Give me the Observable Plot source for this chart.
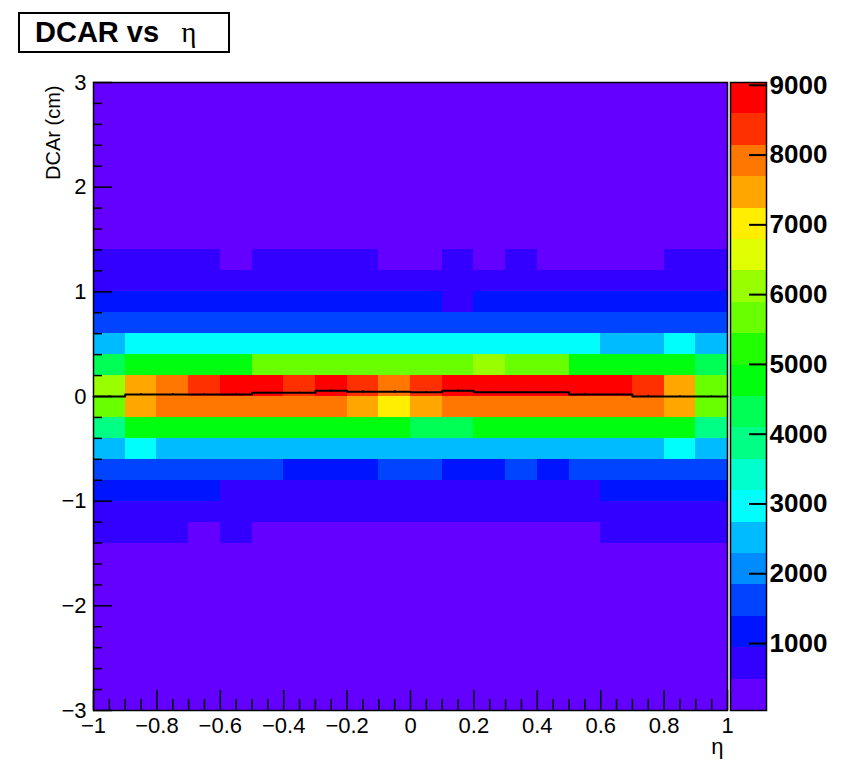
<!DOCTYPE html>
<html>
<head>
<meta charset="utf-8">
<script src="https://cdn.jsdelivr.net/npm/d3@7"></script>
<script src="https://cdn.jsdelivr.net/npm/@observablehq/plot@0.6"></script>
<style>
  body { margin: 0; background: #fff; }
  #wrap { position: relative; width: 847px; height: 762px; overflow: hidden;
          font-family: "Liberation Sans", Arial, Helvetica, sans-serif; }
  #wrap svg { position: absolute; top: 0; }
  #title { position: absolute; left: 18px; top: 12px; width: 212px; height: 41px; box-sizing: border-box;
           border: 2px solid #000; background: #fff; padding-left: 15px;
           font-weight: bold; font-size: 29px; line-height: 37px; color: #000; white-space: nowrap; z-index: 2; }
  #title .eta { font-family: "Liberation Serif", "DejaVu Serif", serif; font-weight: normal; margin-left: 14px; }
</style>
</head>
<body>
<div id="wrap">
  <div id="title">DCAR vs <span class="eta">η</span></div>
</div>
<script>
// ---------------- data ----------------
// lower edges of the 20 η bins (width 0.1)
const etaLow = [-1.0,-0.9,-0.8,-0.7,-0.6,-0.5,-0.4,-0.3,-0.2,-0.1,0.0,0.1,0.2,0.3,0.4,0.5,0.6,0.7,0.8,0.9];
const etaWidth = 0.1;
const dcaHeight = 0.2;

// upper edges of the populated DCAr rows (cm), top to bottom
const coreTops = [1.4,1.2,1.0,0.8,0.6,0.4,0.2,0.0,-0.2,-0.4,-0.6,-0.8,-1.0,-1.2];
// counts per cell, one row per DCAr bin (top to bottom), 20 η bins each
const coreCounts = [
  [620,640,610,600,430,630,610,620,600,440,450,610,420,620,460,440,450,430,600,620],
  [790,810,800,820,780,800,810,790,800,770,780,820,790,800,780,790,800,810,790,800],
  [1150,1160,1140,1170,1130,1150,1160,1140,1120,1130,1100,920,1120,1140,1150,1130,1160,1140,1150,1130],
  [1600,1620,1640,1650,1660,1650,1640,1630,1620,1610,1600,1610,1620,1640,1650,1660,1650,1640,1620,1600],
  [2520,2960,2980,2990,3000,3010,3000,2990,3020,3010,3000,2990,3000,2980,2970,2950,2600,2650,2800,2550],
  [4350,4850,4900,4920,4950,5500,5600,5650,5700,5650,5600,5600,5950,5650,5550,4950,4900,4850,4800,4400],
  [6150,7500,8000,8400,8750,8800,8450,9040,8450,8100,8500,8800,8850,8900,8850,8800,8700,8400,7450,5700],
  [5650,7550,7900,7950,8000,8050,8000,8050,7600,7100,7650,8000,8050,8000,7950,7950,7900,7800,7500,5600],
  [3900,4800,4850,4900,4880,4870,4900,4850,4820,4750,4400,4450,4700,4800,4850,4900,4850,4800,4700,3850],
  [2550,2800,2650,2600,2620,2640,2600,2580,2560,2600,2620,2610,2590,2600,2580,2560,2620,2650,2780,2500],
  [1500,1480,1460,1450,1420,1410,1380,1350,1370,1420,1410,1360,1370,1400,1380,1420,1450,1480,1500,1520],
  [1000,980,960,950,930,900,880,870,880,890,900,910,900,890,910,930,950,970,990,1010],
  [700,690,680,670,660,650,640,630,640,650,660,650,640,630,640,650,680,700,720,730],
  [560,540,520,480,500,470,450,440,430,440,450,440,430,440,450,470,510,530,550,570]
];
// sparsely populated tails (uniform across η), upper edges and counts
const tailTops   = [3.0,2.8,2.6,2.4,2.2,2.0,1.8,1.6, -1.4,-1.6,-1.8,-2.0,-2.2,-2.4,-2.6,-2.8];
const tailCounts = [40,45,55,70,90,120,170,260, 250,165,115,85,65,55,45,42];

// profile (mean DCAr per η bin) and its errors
const profileMean = [0.0,0.02,0.02,0.02,0.02,0.035,0.035,0.055,0.045,0.045,0.04,0.055,0.04,0.04,0.04,0.02,0.02,0.0,0.0,0.0];
const profileErr  = [0.006,0.006,0.006,0.006,0.012,0.006,0.006,0.012,0.012,0.012,0.006,0.012,0.006,0.006,0.006,0.012,0.006,0.012,0.006,0.006];

// colour axis
const zMin = 40, zMax = 9040, nLevels = 20;
const paletteTicks = [1000,2000,3000,4000,5000,6000,7000,8000,9000];
// ROOT "pretty" palette colours for the 20 contour levels
const levelColors = ["#6300ff","#3300ff","#0014ff","#0044ff","#008bff","#00bbff","#00fffc","#00ffcc","#00ff85","#00ff55",
                     "#00ff0e","#22ff00","#69ff00","#99ff00","#e0ff00","#ffee00","#ffa700","#ff7700","#ff3000","#ff0000"];

// axis ticks
const xMajor = [-1,-0.8,-0.6,-0.4,-0.2,0,0.2,0.4,0.6,0.8,1];
const yMajor = [-3,-2,-1,0,1,2,3];

// ---------------- build tables ----------------
const cells = [];
coreTops.forEach((top, r) => etaLow.forEach((x, c) => cells.push({x1: x, x2: x + etaWidth, y1: top - dcaHeight, y2: top, n: coreCounts[r][c]})));
tailTops.forEach((top, r) => etaLow.forEach((x) => cells.push({x1: x, x2: x + etaWidth, y1: top - dcaHeight, y2: top, n: tailCounts[r]})));

const profile = etaLow.map((x, i) => ({x, c: x + etaWidth / 2, m: profileMean[i], e: profileErr[i]}));
const profileSteps = profile.map(d => ({x: d.x, y: d.m})).concat([{x: etaLow[etaLow.length - 1] + etaWidth, y: profileMean[profileMean.length - 1]}]);

const step = (zMax - zMin) / nLevels;
const thresholds = d3.range(1, nLevels).map(i => zMin + i * step);
const bands = d3.range(nLevels).map(i => ({lo: zMin + i * step, hi: zMin + (i + 1) * step}));

const xMinor = d3.range(-1, 1.0001, 0.05).filter(v => !xMajor.some(m => Math.abs(m - v) < 1e-6));
const yMinor = d3.range(-3, 3.0001, 0.2).filter(v => !yMajor.some(m => Math.abs(m - v) < 1e-6));

const fmt = d3.format("~g");
const font = "'Liberation Sans', Arial, Helvetica, sans-serif";
const colorScale = {type: "threshold", domain: thresholds, range: levelColors};

// ---------------- main histogram ----------------
const main = Plot.plot({
  width: 847, height: 762,
  marginLeft: 93, marginRight: 120, marginTop: 82, marginBottom: 52,
  style: {fontFamily: font, fontSize: "22px", background: "transparent", overflow: "visible"},
  x: {domain: [-1, 1]},
  y: {domain: [-3, 3]},
  color: colorScale,
  marks: [
    Plot.rect(cells, {x1: "x1", x2: "x2", y1: "y1", y2: "y2", fill: "n", shapeRendering: "crispEdges"}),
    Plot.line(profileSteps, {x: "x", y: "y", curve: "step-after", stroke: "black", strokeWidth: 2}),
    Plot.ruleX(profile, {x: "c", y1: d => d.m - d.e, y2: d => d.m + d.e, stroke: "black", strokeWidth: 1.5}),
    Plot.frame({stroke: "black", strokeWidth: 1.5}),
    Plot.axisX(xMajor, {tickSize: -20, tickPadding: 27, tickFormat: fmt, fontSize: 22, label: null, strokeWidth: 1.5}),
    Plot.axisX(xMinor, {tickSize: -11, tickFormat: () => "", label: null, strokeWidth: 1.5}),
    Plot.axisY(yMajor, {tickSize: -19, tickPadding: 26, tickFormat: fmt, fontSize: 22, label: null, strokeWidth: 1.5}),
    Plot.axisY(yMinor, {tickSize: -9, tickFormat: () => "", label: null, strokeWidth: 1.5}),
    Plot.text(["η"], {frameAnchor: "bottom-right", dx: -4, dy: 43, textAnchor: "end", fontSize: 22, fill: "black"}),
    Plot.text(["DCAr (cm)"], {frameAnchor: "top-left", dx: -48, dy: 3, rotate: -90, textAnchor: "end", fontSize: 20, fill: "black"})
  ]
});
main.style.left = "0px";
document.getElementById("wrap").appendChild(main);

// ---------------- colour palette ----------------
const palette = Plot.plot({
  width: 117, height: 762,
  marginLeft: 0, marginRight: 81, marginTop: 82, marginBottom: 52,
  style: {fontFamily: font, fontSize: "26px", background: "transparent", overflow: "visible"},
  x: {domain: [0, 1], axis: null},
  y: {domain: [zMin, zMax]},
  color: colorScale,
  marks: [
    Plot.rect(bands, {x1: 0, x2: 1, y1: "lo", y2: "hi", fill: "lo", shapeRendering: "crispEdges"}),
    Plot.frame({stroke: "black", strokeWidth: 1.5}),
    Plot.axisY(paletteTicks, {anchor: "right", tickSize: -18, tickPadding: 21, tickFormat: fmt, fontSize: 26, fontWeight: "bold", label: null, strokeWidth: 2})
  ]
});
palette.style.left = "730px";
document.getElementById("wrap").appendChild(palette);
</script>
</body>
</html>
